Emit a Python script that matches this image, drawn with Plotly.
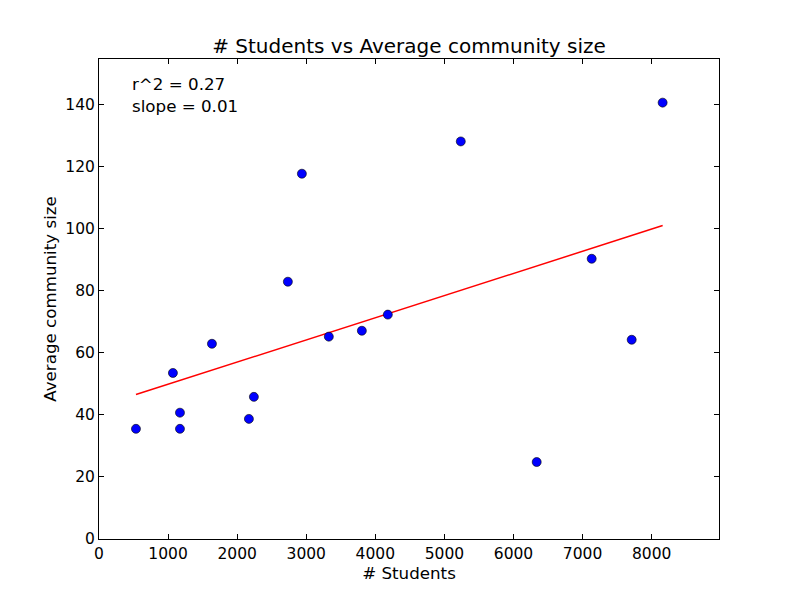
import numpy as np
import plotly.graph_objects as go

# students per school vs average community size
students = [535, 1070, 1172, 1172, 1635, 2170, 2242, 2734, 2937,
            3327, 3805, 4181, 5237, 6336, 7132, 7711, 8159]
community_size = [35.5, 53.5, 40.7, 35.5, 62.9, 38.7, 45.8, 82.9, 117.7,
                  65.2, 67.1, 72.3, 128.1, 24.8, 90.3, 64.2, 140.6]
stats_text = ['r^2 = 0.27', 'slope = 0.01']


def main():
    x = np.array(students, dtype=float)
    y = np.array(community_size, dtype=float)
    slope, intercept = np.polyfit(x, y, 1)
    fit_x = np.array([x.min(), x.max()])
    fit_y = slope * fit_x + intercept

    font = 'DejaVu Sans'
    axis_style = dict(
        showline=True,
        linecolor='black',
        linewidth=1,
        mirror='ticks',
        ticks='inside',
        ticklen=5,
        tickcolor='black',
        showgrid=False,
        zeroline=False,
        tickfont=dict(family=font, size=15.5, color='black'),
    )

    # the page puts the figure 8px in from the top-left corner
    fig = go.Figure(
        data=[
            go.Scatter(
                x=fit_x, y=fit_y, mode='lines',
                line=dict(color='red', width=1.5),
            ),
            go.Scatter(
                x=students, y=community_size, mode='markers',
                marker=dict(color='blue', size=9,
                            line=dict(color='black', width=0.6)),
            ),
        ],
        layout=go.Layout(
            width=800,
            height=600,
            showlegend=False,
            plot_bgcolor='white',
            paper_bgcolor='white',
            margin=dict(l=91, r=89, t=51, b=69),
            title=dict(
                text='# Students vs Average community size',
                x=(409 - 8) / 800, xanchor='center', xref='container',
                y=0.925, yanchor='bottom',
                font=dict(family=font, size=20, color='black'),
            ),
            xaxis=dict(
                axis_style,
                range=[0, max(students) * 1.1],
                tickmode='array',
                tickvals=list(range(0, 9000, 1000)),
                title=dict(text='# Students', standoff=3,
                           font=dict(family=font, size=16.7, color='black')),
            ),
            yaxis=dict(
                axis_style,
                range=[0, max(community_size) * 1.1],
                tickmode='array',
                tickvals=list(range(0, 160, 20)),
                title=dict(text='Average community size', standoff=4,
                           font=dict(family=font, size=16.7, color='black')),
            ),
            annotations=[
                dict(
                    text='<br>'.join(stats_text),
                    xref='paper', yref='paper',
                    x=0.05, y=0.972,
                    xanchor='left', yanchor='top',
                    align='left', showarrow=False,
                    font=dict(family=font, size=16.7, color='black'),
                )
            ],
        ),
    )

    fig.write_html('out.html')


if __name__ == '__main__':
    main()
